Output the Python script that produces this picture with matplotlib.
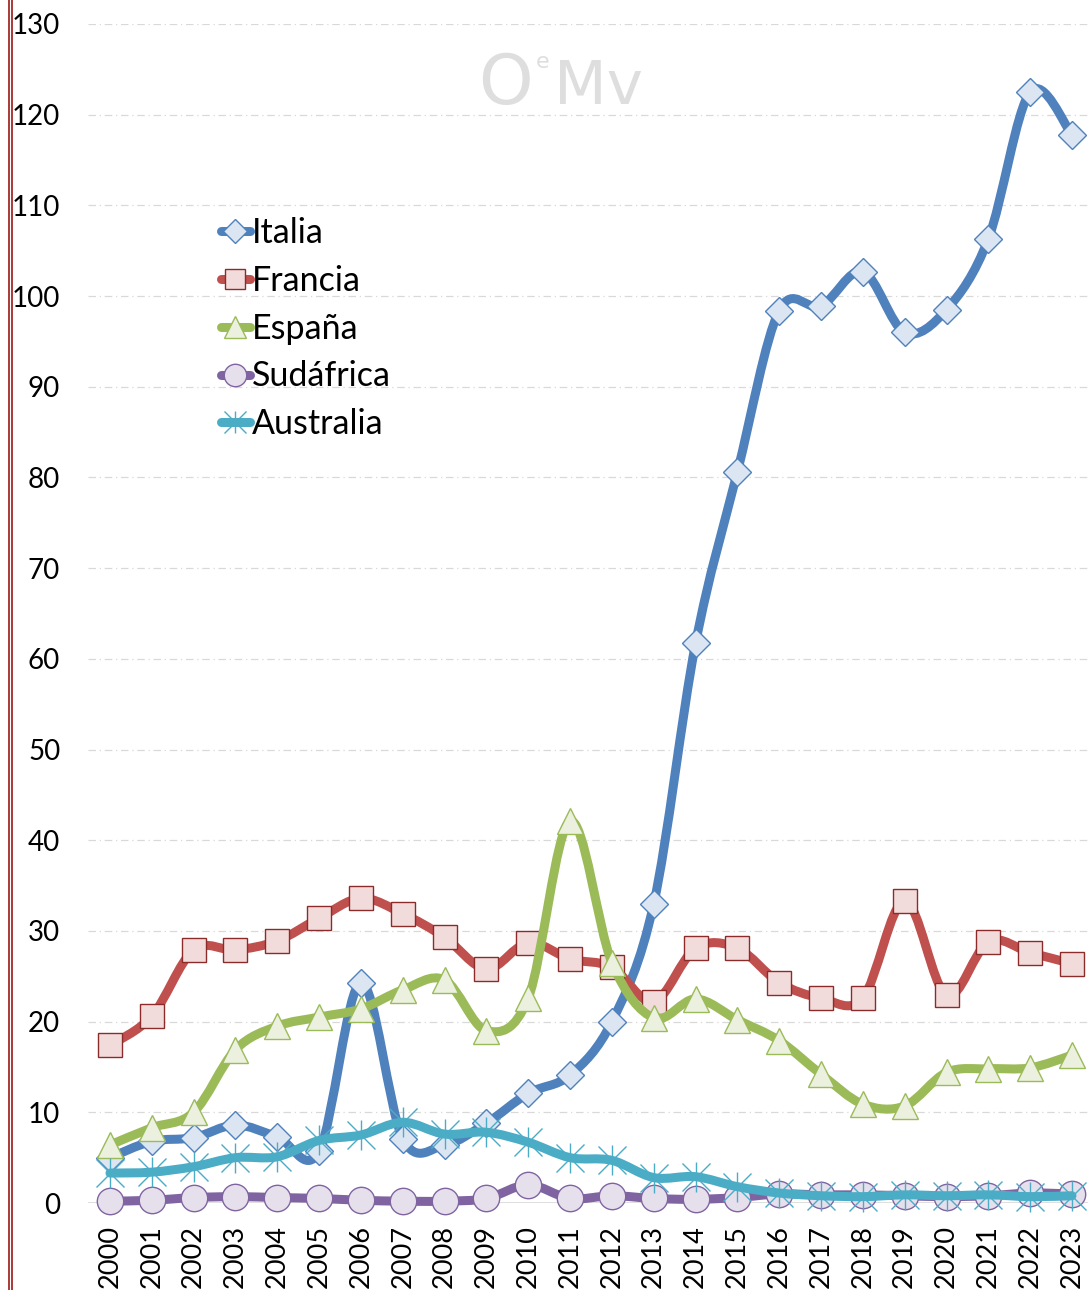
import matplotlib
matplotlib.use("Agg")
import matplotlib.pyplot as plt
from matplotlib.path import Path
from matplotlib.patches import PathPatch
from matplotlib.lines import Line2D
import numpy as np

plt.rcParams['font.family'] = ['Lato', 'DejaVu Sans']

years = list(range(2000, 2024))
italia = [5.0, 6.8, 7.2, 8.6, 7.3, 5.7, 24.3, 7.1, 6.4, 8.8, 12.1, 14.1, 20.0, 33.0,
          61.7, 80.6, 98.4, 98.9, 102.7, 96.0, 98.5, 106.3, 122.5, 117.8]
francia = [17.4, 20.6, 27.9, 27.9, 28.9, 31.4, 33.6, 31.9, 29.3, 25.8, 28.7, 26.9, 26.0, 22.2,
           28.1, 28.1, 24.3, 22.6, 22.6, 33.3, 22.9, 28.8, 27.6, 26.4]
espana = [6.4, 8.3, 10.0, 16.9, 19.5, 20.5, 21.4, 23.5, 24.6, 19.0, 22.6, 42.1, 26.5, 20.4,
          22.5, 20.2, 17.9, 14.2, 10.9, 10.7, 14.4, 14.8, 14.9, 16.3]
sudafrica = [0.2, 0.3, 0.6, 0.7, 0.6, 0.5, 0.3, 0.2, 0.2, 0.5, 2.0, 0.5, 0.8, 0.5,
             0.4, 0.6, 1.0, 0.9, 0.9, 0.8, 0.7, 0.8, 1.1, 1.0]
australia = [3.3, 3.4, 4.0, 5.0, 5.1, 6.9, 7.5, 8.9, 7.6, 7.8, 6.7, 5.0, 4.7, 2.8,
             2.9, 1.8, 1.1, 0.8, 0.7, 0.9, 0.8, 0.9, 0.7, 0.8]
names = ["Italia", "Francia", "España", "Sudáfrica", "Australia"]
yticks = list(range(0, 131, 10))

W, H = 1088, 1290
fig = plt.figure(figsize=(W / 100, H / 100), dpi=100)
ax = fig.add_axes([88 / W, 1 - 1203 / H, 1 - 88 / W, (1203 - 24) / H])

x0 = 2000 - 22 / 41.83
x1 = 2023 + 16 / 41.83
ax.set_xlim(x0, x1)
ax.set_ylim(0, 130)

styles = [
    dict(color='#4F81BD', marker='D', ms=14, mfc='#DCE6F2', mec='#4F81BD', mew=1.0),
    dict(color='#C0504D', marker='s', ms=17, mfc='#F2DCDB', mec='#8C2C2A', mew=1.0),
    dict(color='#9BBB59', marker='^', ms=19, mfc='#EBF1DE', mec='#9BBB59', mew=1.0),
    dict(color='#8064A2', marker='o', ms=19, mfc='#E6E0EC', mec='#8064A2', mew=1.0),
    dict(color='#4BACC6', marker='x', ms=20, mfc='#4BACC6', mec='#4BACC6', mew=1.0),
]
series = [italia, francia, espana, sudafrica, australia]
LW = 6.5


def smooth_path(xs, ys):
    pts = np.column_stack([xs, ys]).astype(float)
    n = len(pts)
    verts = [pts[0]]
    codes = [Path.MOVETO]
    for i in range(n - 1):
        p0 = pts[i - 1] if i > 0 else pts[i]
        p1 = pts[i]
        p2 = pts[i + 1]
        p3 = pts[i + 2] if i + 2 < n else pts[i + 1]
        c1 = p1 + (p2 - p0) / 6.0
        c2 = p2 - (p3 - p1) / 6.0
        verts += [c1, c2, p2]
        codes += [Path.CURVE4] * 3
    return Path(verts, codes)


for k, (vals, st) in enumerate(zip(series, styles)):
    z = 3 + 2 * k
    patch = PathPatch(smooth_path(years, vals), fill=False, edgecolor=st['color'], lw=LW,
                      capstyle='round', joinstyle='round', zorder=z, clip_on=False)
    ax.add_patch(patch)
    ax.plot(years, vals, linestyle='none', marker=st['marker'], ms=st['ms'],
            mfc=st['mfc'], mec=st['mec'], mew=st['mew'], zorder=z + 1, clip_on=False)
    if st['marker'] == 'x':
        ax.plot(years, vals, linestyle='none', marker='|', ms=st['ms'] * 1.05,
                mec=st['mec'], mew=st['mew'], zorder=z + 1, clip_on=False)

# grid
for t in yticks[1:]:
    ax.axhline(t, color='#D9D9D9', lw=0.9, linestyle=(0, (6, 3, 1, 3)), zorder=1)
ax.axhline(0, color='#D9D9D9', lw=1.2, zorder=1)

for s in ax.spines.values():
    s.set_visible(False)
ax.set_yticks(yticks)
ax.set_yticklabels([str(t) for t in yticks], fontsize=20)
ax.set_xticks(years)
ax.set_xticklabels([str(y) for y in years], rotation=90, fontsize=19.5)
ax.tick_params(axis='y', length=0, pad=20)
ax.tick_params(axis='x', length=0, pad=16)

# legend
handles = []
for st in styles:
    if st['marker'] == 'x':
        h = (Line2D([], [], color=st['color'], lw=LW, solid_capstyle='round', marker='x',
                    ms=st['ms'] * 0.8, mfc=st['mfc'], mec=st['mec'], mew=st['mew']),
             Line2D([], [], linestyle='none', marker='|', ms=st['ms'] * 0.8,
                    mec=st['mec'], mew=st['mew']))
    else:
        h = Line2D([], [], color=st['color'], lw=LW, solid_capstyle='round', marker=st['marker'],
                   ms=st['ms'] * 0.85, mfc=st['mfc'], mec=st['mec'], mew=st['mew'])
    handles.append(h)
leg = ax.legend(handles, names, loc='upper left',
                bbox_to_anchor=(221 / W, 1 - 217 / H), bbox_transform=fig.transFigure,
                frameon=False, fontsize=24.5, handlelength=0.85, handletextpad=0.05,
                labelspacing=0.465, borderpad=0, borderaxespad=0)

# watermark
wm = '#DEDEDE'
fig.text(478 / W, 1 - 104 / H, 'O', fontsize=50, color=wm, family='DejaVu Sans',
         va='baseline', ha='left')
fig.text(536 / W, 1 - 68 / H, 'e', fontsize=16, color=wm, family='DejaVu Sans',
         va='baseline', ha='left')
fig.text(554 / W, 1 - 104 / H, 'Mv', fontsize=44, color=wm, family='DejaVu Sans',
         va='baseline', ha='left')

# left double border
for xp in (9, 12):
    fig.add_artist(Line2D([xp / W, xp / W], [0, 1], color='#A52A2A', lw=1.3,
                          transform=fig.transFigure))

fig.savefig('out.png', dpi=100)
